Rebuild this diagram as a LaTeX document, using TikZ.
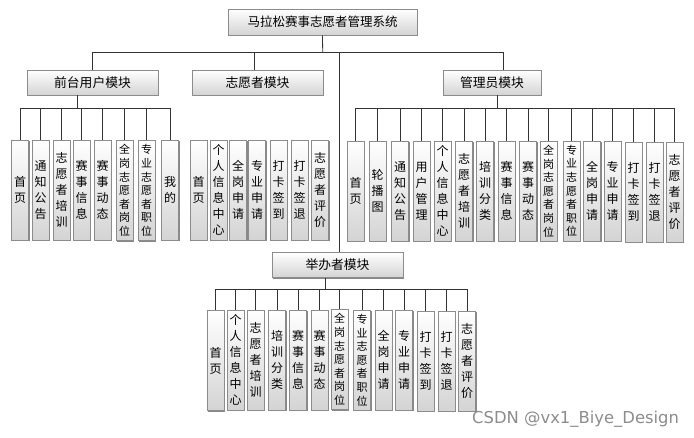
\documentclass[tikz,border=0pt]{standalone}
\usepackage{fontspec}
\setmainfont{Noto Sans CJK SC}
\newfontfamily\wmfont{DejaVu Sans}
\usetikzlibrary{shadows}
\tikzset{
  boxbase/.style={draw=black!45, line width=0.6pt, top color=white, bottom color=black!17,
    drop shadow={shadow xshift=1.3pt, shadow yshift=-1.3pt, fill=black!55, opacity=0.85},
    inner sep=0pt, align=center},
  rootbox/.style={boxbase, minimum width=189pt, minimum height=26pt, font=\fontsize{12.5}{14}\selectfont},
  modbox/.style={boxbase, minimum width=131pt, minimum height=25pt, font=\fontsize{12.8}{14}\selectfont},
  leaf/.style={boxbase, minimum width=17pt, minimum height=100pt, text width=17pt, font=\fontsize{12}{16}\selectfont},
  leafs/.style={leaf, font=\fontsize{11}{13.6}\selectfont},
  conn/.style={draw=black!80, line width=0.8pt}
}
\newcommand\leafnode[5][leaf]{\node[#1] (#2) at (#3,#4) {#5};}
\begin{document}
\begin{tikzpicture}[x=1pt,y=-1pt]
\useasboundingbox (0,0) rectangle (694,438);
% root and modules
\node[rootbox] (root) at (322.5,22) {马拉松赛事志愿者管理系统};
\node[modbox] (qt) at (92.5,82.5) {前台用户模块};
\node[modbox] (zy) at (257.5,82.5) {志愿者模块};
\node[modbox, minimum width=98pt] (gl) at (492,82.5) {管理员模块};
\node[modbox] (jb) at (337.5,265) {举办者模块};
% 前台用户 children
\leafnode{q1}{20}{190}{首\\页}
\leafnode{q2}{40.5}{190}{通\\知\\公\\告}
\leafnode{q3}{61.5}{190}{志\\愿\\者\\培\\训}
\leafnode{q4}{81.5}{190}{赛\\事\\信\\息}
\leafnode{q5}{102.5}{190}{赛\\事\\动\\态}
\leafnode[leafs]{q6}{124.5}{190.5}{全\\岗\\志\\愿\\者\\岗\\位}
\leafnode[leafs]{q7}{146.5}{190.5}{专\\业\\志\\愿\\者\\职\\位}
\leafnode{q8}{170}{190}{我\\的}
% 志愿者 children
\leafnode{v1}{198.5}{190}{首\\页}
\leafnode{v2}{218.5}{190}{个\\人\\信\\息\\中\\心}
\leafnode{v3}{238}{190}{全\\岗\\申\\请}
\leafnode{v4}{257}{190}{专\\业\\申\\请}
\leafnode{v5}{278.5}{190}{打\\卡\\签\\到}
\leafnode{v6}{299.5}{190}{打\\卡\\签\\退}
\leafnode{v7}{320}{190}{志\\愿\\者\\评\\价}
% 管理员 children
\leafnode{a1}{355.5}{191}{首\\页}
\leafnode{a2}{377.5}{191}{轮\\播\\图}
\leafnode{a3}{400}{191}{通\\知\\公\\告}
\leafnode{a4}{421.5}{191}{用\\户\\管\\理}
\leafnode{a5}{442.5}{191}{个\\人\\信\\息\\中\\心}
\leafnode{a6}{464}{191}{志\\愿\\者\\培\\训}
\leafnode{a7}{485}{191}{培\\训\\分\\类}
\leafnode{a8}{506.5}{191}{赛\\事\\信\\息}
\leafnode{a9}{528}{191}{赛\\事\\动\\态}
\leafnode[leafs]{a10}{548.5}{191}{全\\岗\\志\\愿\\者\\岗\\位}
\leafnode[leafs]{a11}{571.5}{191}{专\\业\\志\\愿\\者\\职\\位}
\leafnode{a12}{592}{191}{全\\岗\\申\\请}
\leafnode{a13}{612.5}{191}{专\\业\\申\\请}
\leafnode{a14}{633.5}{192}{打\\卡\\签\\到}
\leafnode{a15}{654.5}{192}{打\\卡\\签\\退}
\leafnode{a16}{674.5}{192}{志\\愿\\者\\评\\价}
% 举办者 children
\leafnode{j1}{215.5}{360.5}{首\\页}
\leafnode{j2}{235.5}{360}{个\\人\\信\\息\\中\\心}
\leafnode{j3}{255.5}{360}{志\\愿\\者\\培\\训}
\leafnode{j4}{277}{360}{培\\训\\分\\类}
\leafnode{j5}{298}{360}{赛\\事\\信\\息}
\leafnode{j6}{319.5}{360}{赛\\事\\动\\态}
\leafnode[leafs]{j7}{339.5}{359.5}{全\\岗\\志\\愿\\者\\岗\\位}
\leafnode[leafs]{j8}{362}{360}{专\\业\\志\\愿\\者\\职\\位}
\leafnode{j9}{383.5}{360}{全\\岗\\申\\请}
\leafnode{j10}{404}{360}{专\\业\\申\\请}
\leafnode{j11}{425.5}{361}{打\\卡\\签\\到}
\leafnode{j12}{446.5}{361}{打\\卡\\签\\退}
\leafnode{j13}{467}{361}{志\\愿\\者\\评\\价}
% top-level connectors
\coordinate (bus0) at (322.7,52);
\draw[conn] (root.south) -- (bus0);
\draw[conn] (qt.north) |- (bus0);
\draw[conn] ([xshift=-3.5pt]zy.north) |- (bus0);
\draw[conn] ([xshift=11pt]gl.north) |- (bus0);
\draw[conn] ([xshift=1.5pt]jb.north) |- (bus0);
% 前台 bus
\coordinate (qb) at (77,108);
\draw[conn] ([xshift=-15.5pt]qt.south) -- (qb);
\foreach \i in {1,...,8} \draw[conn] (q\i.north) |- (qb);
% 管理员 bus
\coordinate (ab) at (497,108);
\draw[conn] ([xshift=5pt]gl.south) -- (ab);
\foreach \i in {1,...,16} \draw[conn] (a\i.north) |- (ab);
% 举办者 bus
\coordinate (jbb) at (325,289);
\draw[conn] ([xshift=-12.5pt]jb.south) -- (jbb);
\foreach \i in {1,...,13} \draw[conn] (j\i.north) |- (jbb);
% watermark
\node[anchor=west, text=black!45, font=\wmfont\fontsize{16.4}{18}\selectfont, inner sep=0pt] (wm) at (472,419.5) {CSDN @vx1\_Biye\_Design};
\end{tikzpicture}
\end{document}
